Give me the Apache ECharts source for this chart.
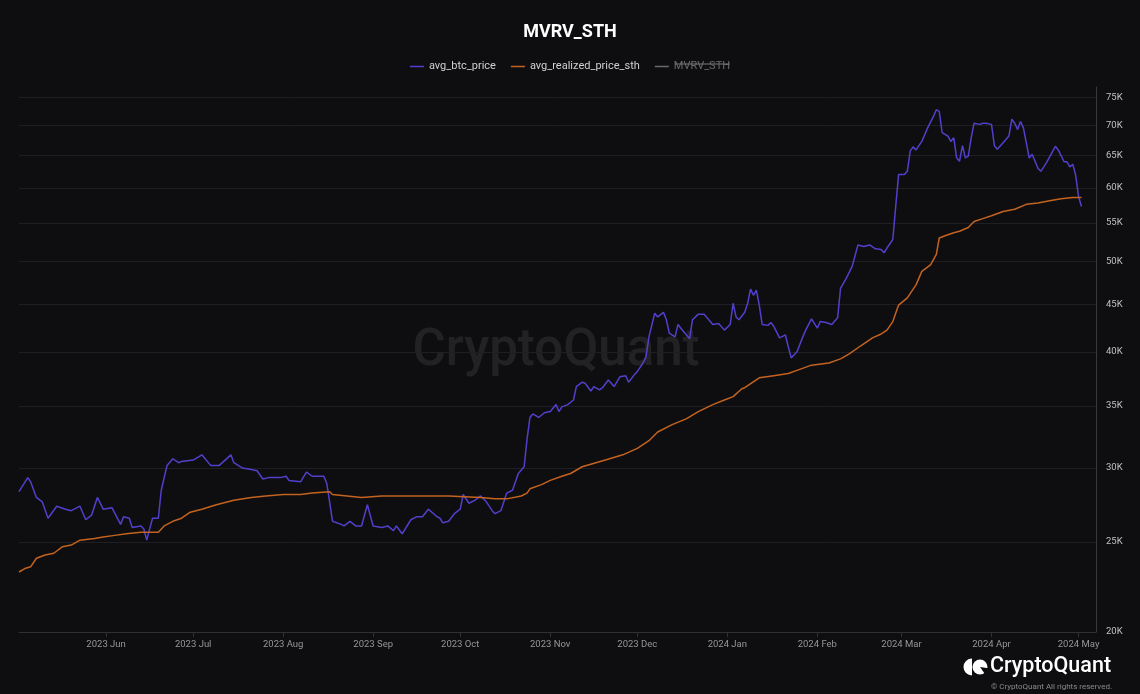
<!DOCTYPE html>
<html><head><meta charset="utf-8">
<script src="https://cdn.jsdelivr.net/npm/echarts@6/dist/echarts.min.js"></script>
<style>html,body{margin:0;padding:0;background:#0e0e10;}#c{width:1140px;height:694px;}</style>
</head><body><div id="c"></div>
<script>
// day offsets counted from the start date (2023-05-02)
const startDate = [2023, 4, 2];
const btcDays = [0,3,4,6,8,10,13,16,18,21,23,25,27,29,32,35,36,38,39,42,43,44,46,48,49,51,53,55,56,60,63,66,69,73,74,77,80,82,84,86,90,92,93,97,99,101,105,106,107,108,111,112,114,116,118,120,122,125,127,129,130,132,135,137,139,141,144,145,146,148,150,152,153,155,157,159,161,163,164,166,168,170,172,174,175,176,177,179,181,183,185,186,187,189,191,192,194,195,197,198,200,201,203,205,207,209,210,212,213,215,216,217,219,220,222,223,224,226,227,228,231,232,234,236,239,241,243,245,246,247,248,250,251,252,253,254,255,256,258,259,260,262,264,265,266,268,270,271,273,275,276,278,280,282,283,285,287,289,291,293,295,297,298,299,301,302,303,305,306,307,308,309,311,313,315,316,317,318,320,321,322,323,324,325,326,327,328,329,331,332,333,335,336,337,339,341,342,343,344,345,346,348,349,351,352,354,357,358,360,361,362,363,364,365,366];
const btcValues = [28300,29300,29000,27900,27600,26500,27300,27100,27000,27300,26400,26700,27900,27100,27200,26100,26600,26500,25900,26000,25800,25100,26500,26500,28400,30200,30700,30400,30500,30600,31000,30200,30200,31000,30400,30000,29900,29800,29200,29300,29300,29400,29100,29000,29700,29400,29400,28900,27600,26300,26100,26000,26300,26000,26000,27400,26000,25900,26000,25700,26000,25500,26400,26600,26600,27100,26600,26500,26200,26300,26800,27100,28100,27500,27700,28000,27600,27000,26800,27000,28200,28400,29600,30100,32200,34000,34300,34000,34400,34500,35100,34500,34900,35100,35500,36700,37100,37000,36300,36700,36400,36600,37300,36700,37600,37700,37100,37800,38100,38900,39500,41500,44000,43600,44100,43300,41900,41500,42800,42400,41300,43300,43900,43900,42800,42900,42200,42800,45100,43600,43300,44100,45100,46700,46000,46600,44900,42800,42700,43000,42600,41400,41700,40500,39400,40000,41500,42200,43400,42400,43100,43000,42800,43500,46800,48000,49400,52100,51900,52100,51600,51500,51100,51700,52800,57300,62000,62000,62500,65700,66400,65900,67300,69600,71600,72800,72500,68800,68200,67300,67900,64600,64100,66600,64600,64900,67900,70400,70200,70400,70400,70200,66600,66000,67100,68200,71100,70400,69300,70700,69600,64600,65200,63000,62500,63900,66500,65900,64000,64000,63200,63600,61900,58700,57300];
const rpDays = [0,2,4,6,9,12,15,18,21,26,29,33,37,42,46,48,50,53,56,59,63,68,74,80,85,91,97,101,107,108,113,118,125,136,148,159,164,168,173,175,176,180,183,187,190,194,202,208,213,217,220,225,230,234,239,243,246,249,250,255,260,265,268,273,279,283,286,290,294,297,299,301,303,306,309,311,314,316,317,319,322,324,327,329,332,335,339,343,347,351,355,359,363,366];
const rpValues = [23200,23400,23500,24000,24200,24300,24700,24800,25100,25200,25300,25400,25500,25600,25600,25600,26000,26300,26500,26900,27100,27400,27700,27900,28000,28100,28100,28200,28300,28100,28000,27900,28000,28000,28000,27900,27800,27800,28000,28200,28500,28800,29100,29400,29600,30100,30600,31000,31500,32100,32800,33400,33900,34500,35100,35500,35800,36500,36600,37500,37700,37900,38200,38700,38900,39300,39800,40600,41400,41800,42200,43100,44900,45700,47200,48800,49600,50900,53000,53300,53700,53900,54400,55200,55600,56000,56600,56900,57600,57800,58100,58400,58600,58600];
const mvrvValues = []; // series hidden in the reference legend
const yTicks = [20000,25000,30000,35000,40000,45000,50000,55000,60000,65000,70000,75000];

function toTime(d){ return new Date(startDate[0], startDate[1], startDate[2] + d).getTime(); }
const btcData = btcDays.map((d,i)=>[toTime(d), btcValues[i]]);
const rpData = rpDays.map((d,i)=>[toTime(d), rpValues[i]]);

const FONT = 'Roboto';
const chart = echarts.init(document.getElementById('c'), null, {renderer:'canvas'});
chart.setOption({
  backgroundColor:'#0e0e10',
  animation:false,
  textStyle:{fontFamily:FONT},
  title:{text:'MVRV_STH', left:'center', top:18, textStyle:{color:'#ffffff', fontSize:18, fontWeight:'bold', fontFamily:FONT}},
  legend:{
    top:56, left:'center', icon:'rect', itemWidth:14, itemHeight:1.5, itemGap:15,
    textStyle:{color:'#d0d0d0', fontSize:11, fontFamily:FONT},
    inactiveColor:'#6a6a6a',
    data:['avg_btc_price','avg_realized_price_sth','MVRV_STH'],
    selected:{'MVRV_STH':false}
  },
  grid:{left:19, right:44, top:87, bottom:62, outerBoundsMode:'none', containLabel:false},
  xAxis:{
    type:'time',
    min:toTime(0), max:new Date(2024,4,7).getTime(),
    splitNumber:12,
    axisLine:{lineStyle:{color:'#303034'}},
    axisTick:{show:true, length:5, lineStyle:{color:'#303034'}},
    axisLabel:{color:'#969696', fontSize:9.5, formatter:'{yyyy} {MMM}', hideOverlap:false},
    splitLine:{show:false}
  },
  yAxis:{
    type:'log', logBase:10, position:'right', min:20000, max:77000,
    axisLine:{show:true, lineStyle:{color:'#3a3a3e'}},
    axisTick:{show:false, customValues:yTicks},
    axisLabel:{color:'#c0c0c0', fontSize:9.5, margin:10, customValues:yTicks,
      formatter:function(v){return Math.round(v/1000)+'K';}},
    splitLine:{show:true, lineStyle:{color:'#1f1f23', width:1}}
  },
  series:[
    {name:'avg_btc_price', type:'line', data:btcData, showSymbol:false, symbol:'none',
      lineStyle:{color:'#5140cc', width:1.5}, itemStyle:{color:'#5140cc'}},
    {name:'avg_realized_price_sth', type:'line', data:rpData, showSymbol:false, symbol:'none',
      lineStyle:{color:'#c4631f', width:1.5}, itemStyle:{color:'#c4631f'}},
    {name:'MVRV_STH', type:'line', data:mvrvValues, showSymbol:false, symbol:'none',
      lineStyle:{color:'#9a9a9a', width:1.5}, itemStyle:{color:'#9a9a9a'}}
  ],
  graphic:[
    {type:'text', x:556, y:352, z:-1, silent:true,
      style:{text:'CryptoQuant', fill:'rgba(255,255,255,0.085)', fontSize:51, fontFamily:FONT, fontWeight:500, align:'center', verticalAlign:'middle'}},
    {type:'line', shape:{x1:675, y1:64, x2:730, y2:64}, style:{stroke:'#7a7a7a', lineWidth:1}},
    {type:'sector', shape:{cx:972, cy:667, r0:0, r:8.5, startAngle:Math.PI/2, endAngle:Math.PI*1.5}, style:{fill:'#ffffff'}},
    {type:'circle', shape:{cx:980, cy:667, r:7.5}, style:{fill:'#ffffff'}},
    {type:'sector', shape:{cx:980, cy:667, r0:0, r:8.5, startAngle:0.15, endAngle:0.95}, style:{fill:'#0e0e10'}},
    {type:'text', x:990, y:667, style:{text:'CryptoQuant', fill:'#ffffff', fontSize:21.5, fontFamily:FONT, fontWeight:500, verticalAlign:'middle'}},
    {type:'text', x:1112, y:687, style:{text:'© CryptoQuant All rights reserved.', fill:'#8a8a8a', fontSize:8, fontFamily:FONT, align:'right', verticalAlign:'middle'}}
  ]
});
</script>
</body></html>
